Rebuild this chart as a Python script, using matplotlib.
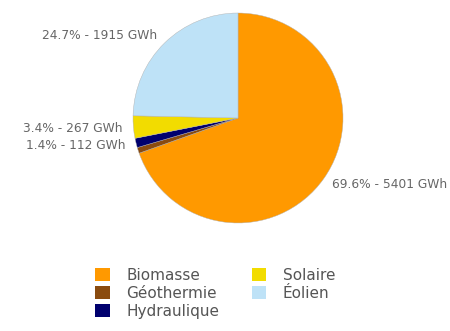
import matplotlib.pyplot as plt
from matplotlib.patches import Patch
import numpy as np

# Production par filière (GWh)
categories = ['Biomasse', 'Géothermie', 'Hydraulique', 'Solaire', 'Éolien']
gwh = [5401, 70, 112, 267, 1915]
pct_labels = ['69.6%', '', '1.4%', '3.4%', '24.7%']
colors = ['#FF9900', '#8A4B0F', '#00006E', '#F2DC00', '#BEE2F7']

fig = plt.figure(figsize=(4.5, 3.31), dpi=100)
ax = fig.add_axes([0.2956, 0.3263, 0.4667, 0.6344])

wedges, _ = ax.pie(gwh, colors=colors, startangle=90, counterclock=False,
                   wedgeprops=dict(linewidth=0.3, edgecolor='#B0B0B0'))
ax.set_xlim(-1, 1)
ax.set_ylim(-1, 1)
ax.set_aspect('equal')
ax.axis('off')

# labels outside the pie, at the middle angle of each slice
for w, pct, v in zip(wedges, pct_labels, gwh):
    if not pct:
        continue
    mid = np.deg2rad((w.theta1 + w.theta2) / 2)
    x, y = 1.1 * np.cos(mid), 1.1 * np.sin(mid)
    ha = 'left' if x > 0 else 'right'
    ax.text(x, y, f'{pct} - {v} GWh', ha=ha, va='center', fontsize=8.8,
            color='#666666', clip_on=False)

handles = [Patch(facecolor=c, edgecolor='none') for c in colors]
fig.legend(handles, categories, ncol=2, loc='upper left',
           bbox_to_anchor=(0.198, 0.209), frameon=False, fontsize=11,
           handlelength=0.95, handleheight=0.9, handletextpad=1.1,
           columnspacing=2.1, labelspacing=0.2, labelcolor='#555555',
           borderaxespad=0)

fig.savefig('out.png', dpi=100)
